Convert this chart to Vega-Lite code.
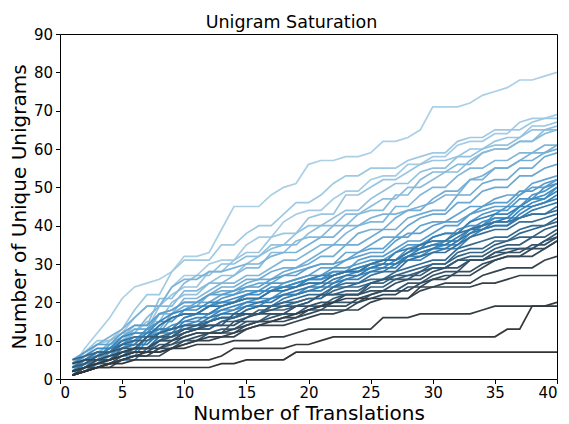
{
"$schema": "https://vega.github.io/schema/vega-lite/v6.json",
"width": 497, "height": 345, "autosize": "none",
"padding": {"left": 60, "top": 34, "right": 12, "bottom": 45},
"background": "white",
"title": {"text": "Unigram Saturation", "fontSize": 17.5, "font": "DejaVu Sans", "fontWeight": "normal", "color": "#000", "offset": 7, "dy": 11, "dx": -17},
"config": {
  "view": {"stroke": "#000", "strokeWidth": 1},
  "axis": {"domain": false, "grid": false, "tickColor": "#000", "tickSize": 4.5, "tickWidth": 1, "labelFont": "DejaVu Sans", "labelFontSize": 15, "labelColor": "#000", "labelPadding": 3, "titleFont": "DejaVu Sans", "titleFontSize": 20, "titleFontWeight": "normal", "titleColor": "#000", "titlePadding": 4},
  "axisBottom": {"titlePadding": 3, "labelPadding": 2}
},
"datasets": {"d": [
{"s":1,"x":1,"y":3},{"s":1,"x":2,"y":8},{"s":1,"x":3,"y":12},{"s":1,"x":4,"y":16},{"s":1,"x":5,"y":21},{"s":1,"x":6,"y":24},{"s":1,"x":7,"y":25},{"s":1,"x":8,"y":26},{"s":1,"x":9,"y":28},{"s":1,"x":10,"y":32},
{"s":1,"x":11,"y":32},{"s":1,"x":12,"y":33},{"s":1,"x":13,"y":39},{"s":1,"x":14,"y":45},{"s":1,"x":15,"y":45},{"s":1,"x":16,"y":45},{"s":1,"x":17,"y":48},{"s":1,"x":18,"y":50},{"s":1,"x":19,"y":51},{"s":1,"x":20,"y":56},
{"s":1,"x":21,"y":57},{"s":1,"x":22,"y":57},{"s":1,"x":23,"y":58},{"s":1,"x":24,"y":58},{"s":1,"x":25,"y":59},{"s":1,"x":26,"y":62},{"s":1,"x":27,"y":62},{"s":1,"x":28,"y":63},{"s":1,"x":29,"y":65},{"s":1,"x":30,"y":71},
{"s":1,"x":31,"y":71},{"s":1,"x":32,"y":71},{"s":1,"x":33,"y":72},{"s":1,"x":34,"y":74},{"s":1,"x":35,"y":75},{"s":1,"x":36,"y":76},{"s":1,"x":37,"y":78},{"s":1,"x":38,"y":78},{"s":1,"x":39,"y":79},{"s":1,"x":40,"y":80},
{"s":2,"x":1,"y":2},{"s":2,"x":2,"y":6},{"s":2,"x":3,"y":9},{"s":2,"x":4,"y":10},{"s":2,"x":5,"y":12},{"s":2,"x":6,"y":16},{"s":2,"x":7,"y":19},{"s":2,"x":8,"y":19},{"s":2,"x":9,"y":24},{"s":2,"x":10,"y":27},
{"s":2,"x":11,"y":27},{"s":2,"x":12,"y":30},{"s":2,"x":13,"y":31},{"s":2,"x":14,"y":31},{"s":2,"x":15,"y":35},{"s":2,"x":16,"y":37},{"s":2,"x":17,"y":37},{"s":2,"x":18,"y":41},{"s":2,"x":19,"y":43},{"s":2,"x":20,"y":44},
{"s":2,"x":21,"y":44},{"s":2,"x":22,"y":47},{"s":2,"x":23,"y":49},{"s":2,"x":24,"y":49},{"s":2,"x":25,"y":52},{"s":2,"x":26,"y":53},{"s":2,"x":27,"y":53},{"s":2,"x":28,"y":56},{"s":2,"x":29,"y":56},{"s":2,"x":30,"y":58},
{"s":2,"x":31,"y":58},{"s":2,"x":32,"y":61},{"s":2,"x":33,"y":62},{"s":2,"x":34,"y":62},{"s":2,"x":35,"y":64},{"s":2,"x":36,"y":64},{"s":2,"x":37,"y":67},{"s":2,"x":38,"y":68},{"s":2,"x":39,"y":68},{"s":2,"x":40,"y":69},
{"s":3,"x":1,"y":4},{"s":3,"x":2,"y":7},{"s":3,"x":3,"y":10},{"s":3,"x":4,"y":10},{"s":3,"x":5,"y":13},{"s":3,"x":6,"y":18},{"s":3,"x":7,"y":22},{"s":3,"x":8,"y":22},{"s":3,"x":9,"y":28},{"s":3,"x":10,"y":31},
{"s":3,"x":11,"y":31},{"s":3,"x":12,"y":31},{"s":3,"x":13,"y":35},{"s":3,"x":14,"y":35},{"s":3,"x":15,"y":38},{"s":3,"x":16,"y":40},{"s":3,"x":17,"y":40},{"s":3,"x":18,"y":43},{"s":3,"x":19,"y":46},{"s":3,"x":20,"y":46},
{"s":3,"x":21,"y":48},{"s":3,"x":22,"y":51},{"s":3,"x":23,"y":53},{"s":3,"x":24,"y":53},{"s":3,"x":25,"y":55},{"s":3,"x":26,"y":55},{"s":3,"x":27,"y":55},{"s":3,"x":28,"y":57},{"s":3,"x":29,"y":58},{"s":3,"x":30,"y":59},
{"s":3,"x":31,"y":59},{"s":3,"x":32,"y":62},{"s":3,"x":33,"y":63},{"s":3,"x":34,"y":63},{"s":3,"x":35,"y":65},{"s":3,"x":36,"y":65},{"s":3,"x":37,"y":65},{"s":3,"x":38,"y":67},{"s":3,"x":39,"y":68},{"s":3,"x":40,"y":68},
{"s":4,"x":1,"y":3},{"s":4,"x":2,"y":5},{"s":4,"x":3,"y":7},{"s":4,"x":4,"y":9},{"s":4,"x":5,"y":10},{"s":4,"x":6,"y":13},{"s":4,"x":7,"y":13},{"s":4,"x":8,"y":19},{"s":4,"x":9,"y":22},{"s":4,"x":10,"y":24},
{"s":4,"x":11,"y":24},{"s":4,"x":12,"y":28},{"s":4,"x":13,"y":28},{"s":4,"x":14,"y":31},{"s":4,"x":15,"y":33},{"s":4,"x":16,"y":33},{"s":4,"x":17,"y":37},{"s":4,"x":18,"y":38},{"s":4,"x":19,"y":38},{"s":4,"x":20,"y":42},
{"s":4,"x":21,"y":43},{"s":4,"x":22,"y":43},{"s":4,"x":23,"y":48},{"s":4,"x":24,"y":48},{"s":4,"x":25,"y":50},{"s":4,"x":26,"y":52},{"s":4,"x":27,"y":52},{"s":4,"x":28,"y":54},{"s":4,"x":29,"y":56},{"s":4,"x":30,"y":57},
{"s":4,"x":31,"y":57},{"s":4,"x":32,"y":58},{"s":4,"x":33,"y":60},{"s":4,"x":34,"y":60},{"s":4,"x":35,"y":62},{"s":4,"x":36,"y":63},{"s":4,"x":37,"y":63},{"s":4,"x":38,"y":66},{"s":4,"x":39,"y":66},{"s":4,"x":40,"y":67},
{"s":5,"x":1,"y":2},{"s":5,"x":2,"y":4},{"s":5,"x":3,"y":6},{"s":5,"x":4,"y":6},{"s":5,"x":5,"y":9},{"s":5,"x":6,"y":12},{"s":5,"x":7,"y":15},{"s":5,"x":8,"y":15},{"s":5,"x":9,"y":20},{"s":5,"x":10,"y":22},
{"s":5,"x":11,"y":22},{"s":5,"x":12,"y":25},{"s":5,"x":13,"y":27},{"s":5,"x":14,"y":27},{"s":5,"x":15,"y":30},{"s":5,"x":16,"y":32},{"s":5,"x":17,"y":35},{"s":5,"x":18,"y":35},{"s":5,"x":19,"y":38},{"s":5,"x":20,"y":40},
{"s":5,"x":21,"y":40},{"s":5,"x":22,"y":42},{"s":5,"x":23,"y":44},{"s":5,"x":24,"y":44},{"s":5,"x":25,"y":47},{"s":5,"x":26,"y":49},{"s":5,"x":27,"y":51},{"s":5,"x":28,"y":51},{"s":5,"x":29,"y":54},{"s":5,"x":30,"y":55},
{"s":5,"x":31,"y":55},{"s":5,"x":32,"y":58},{"s":5,"x":33,"y":58},{"s":5,"x":34,"y":60},{"s":5,"x":35,"y":61},{"s":5,"x":36,"y":61},{"s":5,"x":37,"y":63},{"s":5,"x":38,"y":65},{"s":5,"x":39,"y":65},{"s":5,"x":40,"y":66},
{"s":6,"x":1,"y":1},{"s":6,"x":2,"y":4},{"s":6,"x":3,"y":7},{"s":6,"x":4,"y":7},{"s":6,"x":5,"y":11},{"s":6,"x":6,"y":14},{"s":6,"x":7,"y":14},{"s":6,"x":8,"y":21},{"s":6,"x":9,"y":21},{"s":6,"x":10,"y":25},
{"s":6,"x":11,"y":27},{"s":6,"x":12,"y":27},{"s":6,"x":13,"y":30},{"s":6,"x":14,"y":30},{"s":6,"x":15,"y":32},{"s":6,"x":16,"y":32},{"s":6,"x":17,"y":34},{"s":6,"x":18,"y":35},{"s":6,"x":19,"y":35},{"s":6,"x":20,"y":38},
{"s":6,"x":21,"y":40},{"s":6,"x":22,"y":40},{"s":6,"x":23,"y":43},{"s":6,"x":24,"y":43},{"s":6,"x":25,"y":45},{"s":6,"x":26,"y":47},{"s":6,"x":27,"y":47},{"s":6,"x":28,"y":50},{"s":6,"x":29,"y":50},{"s":6,"x":30,"y":52},
{"s":6,"x":31,"y":54},{"s":6,"x":32,"y":54},{"s":6,"x":33,"y":57},{"s":6,"x":34,"y":59},{"s":6,"x":35,"y":60},{"s":6,"x":36,"y":60},{"s":6,"x":37,"y":62},{"s":6,"x":38,"y":62},{"s":6,"x":39,"y":65},{"s":6,"x":40,"y":65},
{"s":7,"x":1,"y":3},{"s":7,"x":2,"y":6},{"s":7,"x":3,"y":6},{"s":7,"x":4,"y":10},{"s":7,"x":5,"y":12},{"s":7,"x":6,"y":12},{"s":7,"x":7,"y":16},{"s":7,"x":8,"y":19},{"s":7,"x":9,"y":19},{"s":7,"x":10,"y":23},
{"s":7,"x":11,"y":23},{"s":7,"x":12,"y":25},{"s":7,"x":13,"y":25},{"s":7,"x":14,"y":27},{"s":7,"x":15,"y":29},{"s":7,"x":16,"y":29},{"s":7,"x":17,"y":33},{"s":7,"x":18,"y":33},{"s":7,"x":19,"y":36},{"s":7,"x":20,"y":37},
{"s":7,"x":21,"y":37},{"s":7,"x":22,"y":40},{"s":7,"x":23,"y":40},{"s":7,"x":24,"y":43},{"s":7,"x":25,"y":44},{"s":7,"x":26,"y":44},{"s":7,"x":27,"y":48},{"s":7,"x":28,"y":48},{"s":7,"x":29,"y":52},{"s":7,"x":30,"y":54},
{"s":7,"x":31,"y":54},{"s":7,"x":32,"y":56},{"s":7,"x":33,"y":56},{"s":7,"x":34,"y":59},{"s":7,"x":35,"y":60},{"s":7,"x":36,"y":60},{"s":7,"x":37,"y":62},{"s":7,"x":38,"y":62},{"s":7,"x":39,"y":64},{"s":7,"x":40,"y":65},
{"s":8,"x":1,"y":2},{"s":8,"x":2,"y":4},{"s":8,"x":3,"y":6},{"s":8,"x":4,"y":8},{"s":8,"x":5,"y":10},{"s":8,"x":6,"y":12},{"s":8,"x":7,"y":12},{"s":8,"x":8,"y":17},{"s":8,"x":9,"y":17},{"s":8,"x":10,"y":21},
{"s":8,"x":11,"y":21},{"s":8,"x":12,"y":23},{"s":8,"x":13,"y":25},{"s":8,"x":14,"y":25},{"s":8,"x":15,"y":27},{"s":8,"x":16,"y":27},{"s":8,"x":17,"y":29},{"s":8,"x":18,"y":31},{"s":8,"x":19,"y":31},{"s":8,"x":20,"y":33},
{"s":8,"x":21,"y":35},{"s":8,"x":22,"y":35},{"s":8,"x":23,"y":38},{"s":8,"x":24,"y":40},{"s":8,"x":25,"y":41},{"s":8,"x":26,"y":41},{"s":8,"x":27,"y":45},{"s":8,"x":28,"y":45},{"s":8,"x":29,"y":48},{"s":8,"x":30,"y":50},
{"s":8,"x":31,"y":50},{"s":8,"x":32,"y":53},{"s":8,"x":33,"y":55},{"s":8,"x":34,"y":55},{"s":8,"x":35,"y":57},{"s":8,"x":36,"y":57},{"s":8,"x":37,"y":59},{"s":8,"x":38,"y":59},{"s":8,"x":39,"y":61},{"s":8,"x":40,"y":61},
{"s":9,"x":1,"y":4},{"s":9,"x":2,"y":7},{"s":9,"x":3,"y":9},{"s":9,"x":4,"y":11},{"s":9,"x":5,"y":13},{"s":9,"x":6,"y":16},{"s":9,"x":7,"y":19},{"s":9,"x":8,"y":19},{"s":9,"x":9,"y":24},{"s":9,"x":10,"y":26},
{"s":9,"x":11,"y":26},{"s":9,"x":12,"y":28},{"s":9,"x":13,"y":28},{"s":9,"x":14,"y":29},{"s":9,"x":15,"y":30},{"s":9,"x":16,"y":30},{"s":9,"x":17,"y":32},{"s":9,"x":18,"y":33},{"s":9,"x":19,"y":33},{"s":9,"x":20,"y":35},
{"s":9,"x":21,"y":37},{"s":9,"x":22,"y":37},{"s":9,"x":23,"y":40},{"s":9,"x":24,"y":40},{"s":9,"x":25,"y":42},{"s":9,"x":26,"y":43},{"s":9,"x":27,"y":43},{"s":9,"x":28,"y":44},{"s":9,"x":29,"y":45},{"s":9,"x":30,"y":46},
{"s":9,"x":31,"y":48},{"s":9,"x":32,"y":48},{"s":9,"x":33,"y":52},{"s":9,"x":34,"y":52},{"s":9,"x":35,"y":55},{"s":9,"x":36,"y":55},{"s":9,"x":37,"y":57},{"s":9,"x":38,"y":59},{"s":9,"x":39,"y":59},{"s":9,"x":40,"y":61},
{"s":10,"x":1,"y":1},{"s":10,"x":2,"y":3},{"s":10,"x":3,"y":5},{"s":10,"x":4,"y":7},{"s":10,"x":5,"y":8},{"s":10,"x":6,"y":10},{"s":10,"x":7,"y":13},{"s":10,"x":8,"y":13},{"s":10,"x":9,"y":17},{"s":10,"x":10,"y":19},
{"s":10,"x":11,"y":19},{"s":10,"x":12,"y":22},{"s":10,"x":13,"y":24},{"s":10,"x":14,"y":24},{"s":10,"x":15,"y":26},{"s":10,"x":16,"y":26},{"s":10,"x":17,"y":28},{"s":10,"x":18,"y":29},{"s":10,"x":19,"y":29},{"s":10,"x":20,"y":31},
{"s":10,"x":21,"y":33},{"s":10,"x":22,"y":35},{"s":10,"x":23,"y":35},{"s":10,"x":24,"y":38},{"s":10,"x":25,"y":39},{"s":10,"x":26,"y":39},{"s":10,"x":27,"y":42},{"s":10,"x":28,"y":44},{"s":10,"x":29,"y":44},{"s":10,"x":30,"y":47},
{"s":10,"x":31,"y":49},{"s":10,"x":32,"y":49},{"s":10,"x":33,"y":52},{"s":10,"x":34,"y":53},{"s":10,"x":35,"y":55},{"s":10,"x":36,"y":55},{"s":10,"x":37,"y":57},{"s":10,"x":38,"y":57},{"s":10,"x":39,"y":59},{"s":10,"x":40,"y":60},
{"s":11,"x":1,"y":2},{"s":11,"x":2,"y":5},{"s":11,"x":3,"y":5},{"s":11,"x":4,"y":9},{"s":11,"x":5,"y":11},{"s":11,"x":6,"y":13},{"s":11,"x":7,"y":13},{"s":11,"x":8,"y":17},{"s":11,"x":9,"y":18},{"s":11,"x":10,"y":20},
{"s":11,"x":11,"y":20},{"s":11,"x":12,"y":22},{"s":11,"x":13,"y":23},{"s":11,"x":14,"y":23},{"s":11,"x":15,"y":25},{"s":11,"x":16,"y":26},{"s":11,"x":17,"y":26},{"s":11,"x":18,"y":28},{"s":11,"x":19,"y":29},{"s":11,"x":20,"y":30},
{"s":11,"x":21,"y":32},{"s":11,"x":22,"y":32},{"s":11,"x":23,"y":35},{"s":11,"x":24,"y":35},{"s":11,"x":25,"y":37},{"s":11,"x":26,"y":39},{"s":11,"x":27,"y":39},{"s":11,"x":28,"y":42},{"s":11,"x":29,"y":43},{"s":11,"x":30,"y":44},
{"s":11,"x":31,"y":44},{"s":11,"x":32,"y":48},{"s":11,"x":33,"y":48},{"s":11,"x":34,"y":51},{"s":11,"x":35,"y":52},{"s":11,"x":36,"y":52},{"s":11,"x":37,"y":55},{"s":11,"x":38,"y":55},{"s":11,"x":39,"y":58},{"s":11,"x":40,"y":59},
{"s":12,"x":1,"y":3},{"s":12,"x":2,"y":5},{"s":12,"x":3,"y":6},{"s":12,"x":4,"y":8},{"s":12,"x":5,"y":9},{"s":12,"x":6,"y":9},{"s":12,"x":7,"y":13},{"s":12,"x":8,"y":15},{"s":12,"x":9,"y":15},{"s":12,"x":10,"y":18},
{"s":12,"x":11,"y":20},{"s":12,"x":12,"y":20},{"s":12,"x":13,"y":22},{"s":12,"x":14,"y":22},{"s":12,"x":15,"y":24},{"s":12,"x":16,"y":25},{"s":12,"x":17,"y":25},{"s":12,"x":18,"y":27},{"s":12,"x":19,"y":28},{"s":12,"x":20,"y":29},
{"s":12,"x":21,"y":30},{"s":12,"x":22,"y":30},{"s":12,"x":23,"y":33},{"s":12,"x":24,"y":33},{"s":12,"x":25,"y":35},{"s":12,"x":26,"y":37},{"s":12,"x":27,"y":37},{"s":12,"x":28,"y":40},{"s":12,"x":29,"y":42},{"s":12,"x":30,"y":43},
{"s":12,"x":31,"y":43},{"s":12,"x":32,"y":46},{"s":12,"x":33,"y":46},{"s":12,"x":34,"y":49},{"s":12,"x":35,"y":50},{"s":12,"x":36,"y":50},{"s":12,"x":37,"y":53},{"s":12,"x":38,"y":53},{"s":12,"x":39,"y":55},{"s":12,"x":40,"y":56},
{"s":13,"x":1,"y":2},{"s":13,"x":2,"y":4},{"s":13,"x":3,"y":6},{"s":13,"x":4,"y":6},{"s":13,"x":5,"y":8},{"s":13,"x":6,"y":10},{"s":13,"x":7,"y":12},{"s":13,"x":8,"y":12},{"s":13,"x":9,"y":16},{"s":13,"x":10,"y":17},
{"s":13,"x":11,"y":17},{"s":13,"x":12,"y":19},{"s":13,"x":13,"y":20},{"s":13,"x":14,"y":20},{"s":13,"x":15,"y":22},{"s":13,"x":16,"y":23},{"s":13,"x":17,"y":23},{"s":13,"x":18,"y":25},{"s":13,"x":19,"y":26},{"s":13,"x":20,"y":27},
{"s":13,"x":21,"y":29},{"s":13,"x":22,"y":29},{"s":13,"x":23,"y":31},{"s":13,"x":24,"y":33},{"s":13,"x":25,"y":34},{"s":13,"x":26,"y":34},{"s":13,"x":27,"y":37},{"s":13,"x":28,"y":37},{"s":13,"x":29,"y":40},{"s":13,"x":30,"y":41},
{"s":13,"x":31,"y":41},{"s":13,"x":32,"y":43},{"s":13,"x":33,"y":45},{"s":13,"x":34,"y":45},{"s":13,"x":35,"y":47},{"s":13,"x":36,"y":48},{"s":13,"x":37,"y":48},{"s":13,"x":38,"y":51},{"s":13,"x":39,"y":52},{"s":13,"x":40,"y":53},
{"s":14,"x":1,"y":5},{"s":14,"x":2,"y":7},{"s":14,"x":3,"y":9},{"s":14,"x":4,"y":9},{"s":14,"x":5,"y":12},{"s":14,"x":6,"y":14},{"s":14,"x":7,"y":14},{"s":14,"x":8,"y":17},{"s":14,"x":9,"y":18},{"s":14,"x":10,"y":20},
{"s":14,"x":11,"y":20},{"s":14,"x":12,"y":22},{"s":14,"x":13,"y":22},{"s":14,"x":14,"y":23},{"s":14,"x":15,"y":24},{"s":14,"x":16,"y":24},{"s":14,"x":17,"y":26},{"s":14,"x":18,"y":27},{"s":14,"x":19,"y":27},{"s":14,"x":20,"y":29},
{"s":14,"x":21,"y":30},{"s":14,"x":22,"y":30},{"s":14,"x":23,"y":31},{"s":14,"x":24,"y":32},{"s":14,"x":25,"y":33},{"s":14,"x":26,"y":33},{"s":14,"x":27,"y":36},{"s":14,"x":28,"y":38},{"s":14,"x":29,"y":38},{"s":14,"x":30,"y":40},
{"s":14,"x":31,"y":41},{"s":14,"x":32,"y":41},{"s":14,"x":33,"y":43},{"s":14,"x":34,"y":44},{"s":14,"x":35,"y":45},{"s":14,"x":36,"y":45},{"s":14,"x":37,"y":48},{"s":14,"x":38,"y":50},{"s":14,"x":39,"y":50},{"s":14,"x":40,"y":52},
{"s":15,"x":1,"y":1},{"s":15,"x":2,"y":3},{"s":15,"x":3,"y":4},{"s":15,"x":4,"y":6},{"s":15,"x":5,"y":7},{"s":15,"x":6,"y":7},{"s":15,"x":7,"y":11},{"s":15,"x":8,"y":13},{"s":15,"x":9,"y":13},{"s":15,"x":10,"y":16},
{"s":15,"x":11,"y":17},{"s":15,"x":12,"y":17},{"s":15,"x":13,"y":19},{"s":15,"x":14,"y":20},{"s":15,"x":15,"y":21},{"s":15,"x":16,"y":21},{"s":15,"x":17,"y":23},{"s":15,"x":18,"y":24},{"s":15,"x":19,"y":24},{"s":15,"x":20,"y":26},
{"s":15,"x":21,"y":27},{"s":15,"x":22,"y":28},{"s":15,"x":23,"y":28},{"s":15,"x":24,"y":31},{"s":15,"x":25,"y":32},{"s":15,"x":26,"y":32},{"s":15,"x":27,"y":34},{"s":15,"x":28,"y":36},{"s":15,"x":29,"y":36},{"s":15,"x":30,"y":38},
{"s":15,"x":31,"y":40},{"s":15,"x":32,"y":40},{"s":15,"x":33,"y":43},{"s":15,"x":34,"y":45},{"s":15,"x":35,"y":46},{"s":15,"x":36,"y":46},{"s":15,"x":37,"y":49},{"s":15,"x":38,"y":49},{"s":15,"x":39,"y":51},{"s":15,"x":40,"y":52},
{"s":16,"x":1,"y":2},{"s":16,"x":2,"y":4},{"s":16,"x":3,"y":6},{"s":16,"x":4,"y":8},{"s":16,"x":5,"y":10},{"s":16,"x":6,"y":10},{"s":16,"x":7,"y":13},{"s":16,"x":8,"y":15},{"s":16,"x":9,"y":15},{"s":16,"x":10,"y":18},
{"s":16,"x":11,"y":19},{"s":16,"x":12,"y":19},{"s":16,"x":13,"y":21},{"s":16,"x":14,"y":22},{"s":16,"x":15,"y":23},{"s":16,"x":16,"y":23},{"s":16,"x":17,"y":25},{"s":16,"x":18,"y":25},{"s":16,"x":19,"y":26},{"s":16,"x":20,"y":27},
{"s":16,"x":21,"y":27},{"s":16,"x":22,"y":29},{"s":16,"x":23,"y":29},{"s":16,"x":24,"y":30},{"s":16,"x":25,"y":31},{"s":16,"x":26,"y":31},{"s":16,"x":27,"y":33},{"s":16,"x":28,"y":35},{"s":16,"x":29,"y":35},{"s":16,"x":30,"y":37},
{"s":16,"x":31,"y":38},{"s":16,"x":32,"y":38},{"s":16,"x":33,"y":41},{"s":16,"x":34,"y":43},{"s":16,"x":35,"y":44},{"s":16,"x":36,"y":44},{"s":16,"x":37,"y":47},{"s":16,"x":38,"y":47},{"s":16,"x":39,"y":50},{"s":16,"x":40,"y":51},
{"s":17,"x":1,"y":3},{"s":17,"x":2,"y":4},{"s":17,"x":3,"y":4},{"s":17,"x":4,"y":7},{"s":17,"x":5,"y":8},{"s":17,"x":6,"y":9},{"s":17,"x":7,"y":9},{"s":17,"x":8,"y":12},{"s":17,"x":9,"y":14},{"s":17,"x":10,"y":15},
{"s":17,"x":11,"y":15},{"s":17,"x":12,"y":17},{"s":17,"x":13,"y":18},{"s":17,"x":14,"y":18},{"s":17,"x":15,"y":20},{"s":17,"x":16,"y":21},{"s":17,"x":17,"y":21},{"s":17,"x":18,"y":23},{"s":17,"x":19,"y":24},{"s":17,"x":20,"y":25},
{"s":17,"x":21,"y":25},{"s":17,"x":22,"y":27},{"s":17,"x":23,"y":28},{"s":17,"x":24,"y":28},{"s":17,"x":25,"y":30},{"s":17,"x":26,"y":31},{"s":17,"x":27,"y":31},{"s":17,"x":28,"y":34},{"s":17,"x":29,"y":35},{"s":17,"x":30,"y":36},
{"s":17,"x":31,"y":36},{"s":17,"x":32,"y":39},{"s":17,"x":33,"y":40},{"s":17,"x":34,"y":40},{"s":17,"x":35,"y":43},{"s":17,"x":36,"y":45},{"s":17,"x":37,"y":45},{"s":17,"x":38,"y":48},{"s":17,"x":39,"y":49},{"s":17,"x":40,"y":51},
{"s":18,"x":1,"y":2},{"s":18,"x":2,"y":4},{"s":18,"x":3,"y":6},{"s":18,"x":4,"y":6},{"s":18,"x":5,"y":9},{"s":18,"x":6,"y":11},{"s":18,"x":7,"y":11},{"s":18,"x":8,"y":14},{"s":18,"x":9,"y":16},{"s":18,"x":10,"y":17},
{"s":18,"x":11,"y":17},{"s":18,"x":12,"y":19},{"s":18,"x":13,"y":20},{"s":18,"x":14,"y":20},{"s":18,"x":15,"y":22},{"s":18,"x":16,"y":23},{"s":18,"x":17,"y":23},{"s":18,"x":18,"y":24},{"s":18,"x":19,"y":25},{"s":18,"x":20,"y":26},
{"s":18,"x":21,"y":26},{"s":18,"x":22,"y":28},{"s":18,"x":23,"y":28},{"s":18,"x":24,"y":29},{"s":18,"x":25,"y":30},{"s":18,"x":26,"y":31},{"s":18,"x":27,"y":31},{"s":18,"x":28,"y":33},{"s":18,"x":29,"y":34},{"s":18,"x":30,"y":35},
{"s":18,"x":31,"y":36},{"s":18,"x":32,"y":36},{"s":18,"x":33,"y":39},{"s":18,"x":34,"y":41},{"s":18,"x":35,"y":42},{"s":18,"x":36,"y":42},{"s":18,"x":37,"y":45},{"s":18,"x":38,"y":47},{"s":18,"x":39,"y":47},{"s":18,"x":40,"y":50},
{"s":19,"x":1,"y":1},{"s":19,"x":2,"y":2},{"s":19,"x":3,"y":4},{"s":19,"x":4,"y":5},{"s":19,"x":5,"y":6},{"s":19,"x":6,"y":6},{"s":19,"x":7,"y":10},{"s":19,"x":8,"y":11},{"s":19,"x":9,"y":11},{"s":19,"x":10,"y":14},
{"s":19,"x":11,"y":15},{"s":19,"x":12,"y":15},{"s":19,"x":13,"y":17},{"s":19,"x":14,"y":18},{"s":19,"x":15,"y":19},{"s":19,"x":16,"y":19},{"s":19,"x":17,"y":21},{"s":19,"x":18,"y":22},{"s":19,"x":19,"y":22},{"s":19,"x":20,"y":24},
{"s":19,"x":21,"y":25},{"s":19,"x":22,"y":25},{"s":19,"x":23,"y":27},{"s":19,"x":24,"y":28},{"s":19,"x":25,"y":29},{"s":19,"x":26,"y":29},{"s":19,"x":27,"y":31},{"s":19,"x":28,"y":32},{"s":19,"x":29,"y":32},{"s":19,"x":30,"y":34},
{"s":19,"x":31,"y":36},{"s":19,"x":32,"y":36},{"s":19,"x":33,"y":39},{"s":19,"x":34,"y":40},{"s":19,"x":35,"y":42},{"s":19,"x":36,"y":42},{"s":19,"x":37,"y":45},{"s":19,"x":38,"y":47},{"s":19,"x":39,"y":48},{"s":19,"x":40,"y":50},
{"s":20,"x":1,"y":4},{"s":20,"x":2,"y":6},{"s":20,"x":3,"y":8},{"s":20,"x":4,"y":8},{"s":20,"x":5,"y":11},{"s":20,"x":6,"y":12},{"s":20,"x":7,"y":12},{"s":20,"x":8,"y":15},{"s":20,"x":9,"y":17},{"s":20,"x":10,"y":18},
{"s":20,"x":11,"y":18},{"s":20,"x":12,"y":20},{"s":20,"x":13,"y":20},{"s":20,"x":14,"y":21},{"s":20,"x":15,"y":22},{"s":20,"x":16,"y":22},{"s":20,"x":17,"y":24},{"s":20,"x":18,"y":24},{"s":20,"x":19,"y":25},{"s":20,"x":20,"y":26},
{"s":20,"x":21,"y":26},{"s":20,"x":22,"y":27},{"s":20,"x":23,"y":28},{"s":20,"x":24,"y":28},{"s":20,"x":25,"y":29},{"s":20,"x":26,"y":30},{"s":20,"x":27,"y":30},{"s":20,"x":28,"y":32},{"s":20,"x":29,"y":33},{"s":20,"x":30,"y":34},
{"s":20,"x":31,"y":35},{"s":20,"x":32,"y":35},{"s":20,"x":33,"y":38},{"s":20,"x":34,"y":40},{"s":20,"x":35,"y":41},{"s":20,"x":36,"y":41},{"s":20,"x":37,"y":44},{"s":20,"x":38,"y":46},{"s":20,"x":39,"y":47},{"s":20,"x":40,"y":49},
{"s":21,"x":1,"y":2},{"s":21,"x":2,"y":3},{"s":21,"x":3,"y":5},{"s":21,"x":4,"y":6},{"s":21,"x":5,"y":7},{"s":21,"x":6,"y":7},{"s":21,"x":7,"y":11},{"s":21,"x":8,"y":12},{"s":21,"x":9,"y":12},{"s":21,"x":10,"y":15},
{"s":21,"x":11,"y":16},{"s":21,"x":12,"y":16},{"s":21,"x":13,"y":18},{"s":21,"x":14,"y":19},{"s":21,"x":15,"y":20},{"s":21,"x":16,"y":20},{"s":21,"x":17,"y":21},{"s":21,"x":18,"y":22},{"s":21,"x":19,"y":22},{"s":21,"x":20,"y":23},
{"s":21,"x":21,"y":24},{"s":21,"x":22,"y":24},{"s":21,"x":23,"y":26},{"s":21,"x":24,"y":27},{"s":21,"x":25,"y":28},{"s":21,"x":26,"y":28},{"s":21,"x":27,"y":30},{"s":21,"x":28,"y":31},{"s":21,"x":29,"y":31},{"s":21,"x":30,"y":33},
{"s":21,"x":31,"y":34},{"s":21,"x":32,"y":34},{"s":21,"x":33,"y":37},{"s":21,"x":34,"y":39},{"s":21,"x":35,"y":40},{"s":21,"x":36,"y":40},{"s":21,"x":37,"y":43},{"s":21,"x":38,"y":45},{"s":21,"x":39,"y":46},{"s":21,"x":40,"y":48},
{"s":22,"x":1,"y":3},{"s":22,"x":2,"y":5},{"s":22,"x":3,"y":6},{"s":22,"x":4,"y":8},{"s":22,"x":5,"y":9},{"s":22,"x":6,"y":9},{"s":22,"x":7,"y":12},{"s":22,"x":8,"y":13},{"s":22,"x":9,"y":13},{"s":22,"x":10,"y":16},
{"s":22,"x":11,"y":17},{"s":22,"x":12,"y":17},{"s":22,"x":13,"y":19},{"s":22,"x":14,"y":20},{"s":22,"x":15,"y":21},{"s":22,"x":16,"y":21},{"s":22,"x":17,"y":23},{"s":22,"x":18,"y":24},{"s":22,"x":19,"y":24},{"s":22,"x":20,"y":26},
{"s":22,"x":21,"y":27},{"s":22,"x":22,"y":27},{"s":22,"x":23,"y":28},{"s":22,"x":24,"y":29},{"s":22,"x":25,"y":30},{"s":22,"x":26,"y":30},{"s":22,"x":27,"y":33},{"s":22,"x":28,"y":34},{"s":22,"x":29,"y":34},{"s":22,"x":30,"y":37},
{"s":22,"x":31,"y":38},{"s":22,"x":32,"y":38},{"s":22,"x":33,"y":41},{"s":22,"x":34,"y":42},{"s":22,"x":35,"y":43},{"s":22,"x":36,"y":43},{"s":22,"x":37,"y":45},{"s":22,"x":38,"y":45},{"s":22,"x":39,"y":46},{"s":22,"x":40,"y":47},
{"s":23,"x":1,"y":1},{"s":23,"x":2,"y":2},{"s":23,"x":3,"y":4},{"s":23,"x":4,"y":5},{"s":23,"x":5,"y":6},{"s":23,"x":6,"y":7},{"s":23,"x":7,"y":7},{"s":23,"x":8,"y":10},{"s":23,"x":9,"y":12},{"s":23,"x":10,"y":13},
{"s":23,"x":11,"y":13},{"s":23,"x":12,"y":15},{"s":23,"x":13,"y":16},{"s":23,"x":14,"y":16},{"s":23,"x":15,"y":18},{"s":23,"x":16,"y":19},{"s":23,"x":17,"y":19},{"s":23,"x":18,"y":21},{"s":23,"x":19,"y":22},{"s":23,"x":20,"y":23},
{"s":23,"x":21,"y":23},{"s":23,"x":22,"y":25},{"s":23,"x":23,"y":26},{"s":23,"x":24,"y":26},{"s":23,"x":25,"y":28},{"s":23,"x":26,"y":29},{"s":23,"x":27,"y":29},{"s":23,"x":28,"y":32},{"s":23,"x":29,"y":34},{"s":23,"x":30,"y":35},
{"s":23,"x":31,"y":35},{"s":23,"x":32,"y":37},{"s":23,"x":33,"y":39},{"s":23,"x":34,"y":39},{"s":23,"x":35,"y":41},{"s":23,"x":36,"y":42},{"s":23,"x":37,"y":42},{"s":23,"x":38,"y":44},{"s":23,"x":39,"y":45},{"s":23,"x":40,"y":46},
{"s":24,"x":1,"y":2},{"s":24,"x":2,"y":4},{"s":24,"x":3,"y":5},{"s":24,"x":4,"y":5},{"s":24,"x":5,"y":8},{"s":24,"x":6,"y":9},{"s":24,"x":7,"y":9},{"s":24,"x":8,"y":12},{"s":24,"x":9,"y":13},{"s":24,"x":10,"y":14},
{"s":24,"x":11,"y":14},{"s":24,"x":12,"y":16},{"s":24,"x":13,"y":17},{"s":24,"x":14,"y":17},{"s":24,"x":15,"y":19},{"s":24,"x":16,"y":20},{"s":24,"x":17,"y":20},{"s":24,"x":18,"y":22},{"s":24,"x":19,"y":23},{"s":24,"x":20,"y":24},
{"s":24,"x":21,"y":24},{"s":24,"x":22,"y":26},{"s":24,"x":23,"y":27},{"s":24,"x":24,"y":27},{"s":24,"x":25,"y":29},{"s":24,"x":26,"y":30},{"s":24,"x":27,"y":30},{"s":24,"x":28,"y":32},{"s":24,"x":29,"y":33},{"s":24,"x":30,"y":34},
{"s":24,"x":31,"y":34},{"s":24,"x":32,"y":36},{"s":24,"x":33,"y":38},{"s":24,"x":34,"y":39},{"s":24,"x":35,"y":40},{"s":24,"x":36,"y":40},{"s":24,"x":37,"y":42},{"s":24,"x":38,"y":43},{"s":24,"x":39,"y":43},{"s":24,"x":40,"y":45},
{"s":25,"x":1,"y":3},{"s":25,"x":2,"y":5},{"s":25,"x":3,"y":7},{"s":25,"x":4,"y":7},{"s":25,"x":5,"y":10},{"s":25,"x":6,"y":11},{"s":25,"x":7,"y":11},{"s":25,"x":8,"y":14},{"s":25,"x":9,"y":16},{"s":25,"x":10,"y":17},
{"s":25,"x":11,"y":17},{"s":25,"x":12,"y":19},{"s":25,"x":13,"y":19},{"s":25,"x":14,"y":20},{"s":25,"x":15,"y":21},{"s":25,"x":16,"y":21},{"s":25,"x":17,"y":23},{"s":25,"x":18,"y":23},{"s":25,"x":19,"y":24},{"s":25,"x":20,"y":25},
{"s":25,"x":21,"y":25},{"s":25,"x":22,"y":27},{"s":25,"x":23,"y":28},{"s":25,"x":24,"y":28},{"s":25,"x":25,"y":30},{"s":25,"x":26,"y":31},{"s":25,"x":27,"y":31},{"s":25,"x":28,"y":33},{"s":25,"x":29,"y":35},{"s":25,"x":30,"y":36},
{"s":25,"x":31,"y":36},{"s":25,"x":32,"y":38},{"s":25,"x":33,"y":39},{"s":25,"x":34,"y":40},{"s":25,"x":35,"y":41},{"s":25,"x":36,"y":41},{"s":25,"x":37,"y":42},{"s":25,"x":38,"y":43},{"s":25,"x":39,"y":43},{"s":25,"x":40,"y":44},
{"s":26,"x":1,"y":1},{"s":26,"x":2,"y":2},{"s":26,"x":3,"y":3},{"s":26,"x":4,"y":4},{"s":26,"x":5,"y":5},{"s":26,"x":6,"y":5},{"s":26,"x":7,"y":8},{"s":26,"x":8,"y":10},{"s":26,"x":9,"y":10},{"s":26,"x":10,"y":12},
{"s":26,"x":11,"y":13},{"s":26,"x":12,"y":13},{"s":26,"x":13,"y":15},{"s":26,"x":14,"y":16},{"s":26,"x":15,"y":17},{"s":26,"x":16,"y":17},{"s":26,"x":17,"y":19},{"s":26,"x":18,"y":19},{"s":26,"x":19,"y":20},{"s":26,"x":20,"y":21},
{"s":26,"x":21,"y":21},{"s":26,"x":22,"y":24},{"s":26,"x":23,"y":25},{"s":26,"x":24,"y":25},{"s":26,"x":25,"y":27},{"s":26,"x":26,"y":28},{"s":26,"x":27,"y":28},{"s":26,"x":28,"y":31},{"s":26,"x":29,"y":32},{"s":26,"x":30,"y":33},
{"s":26,"x":31,"y":33},{"s":26,"x":32,"y":35},{"s":26,"x":33,"y":37},{"s":26,"x":34,"y":38},{"s":26,"x":35,"y":39},{"s":26,"x":36,"y":39},{"s":26,"x":37,"y":41},{"s":26,"x":38,"y":41},{"s":26,"x":39,"y":42},{"s":26,"x":40,"y":43},
{"s":27,"x":1,"y":2},{"s":27,"x":2,"y":3},{"s":27,"x":3,"y":5},{"s":27,"x":4,"y":5},{"s":27,"x":5,"y":7},{"s":27,"x":6,"y":8},{"s":27,"x":7,"y":8},{"s":27,"x":8,"y":11},{"s":27,"x":9,"y":12},{"s":27,"x":10,"y":13},
{"s":27,"x":11,"y":13},{"s":27,"x":12,"y":15},{"s":27,"x":13,"y":16},{"s":27,"x":14,"y":16},{"s":27,"x":15,"y":18},{"s":27,"x":16,"y":19},{"s":27,"x":17,"y":19},{"s":27,"x":18,"y":20},{"s":27,"x":19,"y":21},{"s":27,"x":20,"y":22},
{"s":27,"x":21,"y":22},{"s":27,"x":22,"y":24},{"s":27,"x":23,"y":24},{"s":27,"x":24,"y":25},{"s":27,"x":25,"y":26},{"s":27,"x":26,"y":26},{"s":27,"x":27,"y":28},{"s":27,"x":28,"y":29},{"s":27,"x":29,"y":30},{"s":27,"x":30,"y":31},
{"s":27,"x":31,"y":31},{"s":27,"x":32,"y":34},{"s":27,"x":33,"y":35},{"s":27,"x":34,"y":36},{"s":27,"x":35,"y":37},{"s":27,"x":36,"y":37},{"s":27,"x":37,"y":39},{"s":27,"x":38,"y":40},{"s":27,"x":39,"y":40},{"s":27,"x":40,"y":42},
{"s":28,"x":1,"y":5},{"s":28,"x":2,"y":6},{"s":28,"x":3,"y":7},{"s":28,"x":4,"y":7},{"s":28,"x":5,"y":9},{"s":28,"x":6,"y":10},{"s":28,"x":7,"y":10},{"s":28,"x":8,"y":12},{"s":28,"x":9,"y":13},{"s":28,"x":10,"y":14},
{"s":28,"x":11,"y":14},{"s":28,"x":12,"y":15},{"s":28,"x":13,"y":16},{"s":28,"x":14,"y":16},{"s":28,"x":15,"y":17},{"s":28,"x":16,"y":17},{"s":28,"x":17,"y":19},{"s":28,"x":18,"y":20},{"s":28,"x":19,"y":20},{"s":28,"x":20,"y":21},
{"s":28,"x":21,"y":21},{"s":28,"x":22,"y":23},{"s":28,"x":23,"y":24},{"s":28,"x":24,"y":24},{"s":28,"x":25,"y":25},{"s":28,"x":26,"y":25},{"s":28,"x":27,"y":27},{"s":28,"x":28,"y":28},{"s":28,"x":29,"y":29},{"s":28,"x":30,"y":30},
{"s":28,"x":31,"y":30},{"s":28,"x":32,"y":33},{"s":28,"x":33,"y":34},{"s":28,"x":34,"y":34},{"s":28,"x":35,"y":36},{"s":28,"x":36,"y":36},{"s":28,"x":37,"y":38},{"s":28,"x":38,"y":39},{"s":28,"x":39,"y":40},{"s":28,"x":40,"y":41},
{"s":29,"x":1,"y":2},{"s":29,"x":2,"y":3},{"s":29,"x":3,"y":4},{"s":29,"x":4,"y":5},{"s":29,"x":5,"y":6},{"s":29,"x":6,"y":8},{"s":29,"x":7,"y":8},{"s":29,"x":8,"y":10},{"s":29,"x":9,"y":11},{"s":29,"x":10,"y":12},
{"s":29,"x":11,"y":13},{"s":29,"x":12,"y":13},{"s":29,"x":13,"y":15},{"s":29,"x":14,"y":15},{"s":29,"x":15,"y":16},{"s":29,"x":16,"y":18},{"s":29,"x":17,"y":18},{"s":29,"x":18,"y":18},{"s":29,"x":19,"y":19},{"s":29,"x":20,"y":20},
{"s":29,"x":21,"y":22},{"s":29,"x":22,"y":22},{"s":29,"x":23,"y":23},{"s":29,"x":24,"y":23},{"s":29,"x":25,"y":25},{"s":29,"x":26,"y":26},{"s":29,"x":27,"y":27},{"s":29,"x":28,"y":27},{"s":29,"x":29,"y":28},{"s":29,"x":30,"y":30},
{"s":29,"x":31,"y":30},{"s":29,"x":32,"y":32},{"s":29,"x":33,"y":33},{"s":29,"x":34,"y":33},{"s":29,"x":35,"y":35},{"s":29,"x":36,"y":36},{"s":29,"x":37,"y":37},{"s":29,"x":38,"y":37},{"s":29,"x":39,"y":39},{"s":29,"x":40,"y":40},
{"s":30,"x":1,"y":1},{"s":30,"x":2,"y":2},{"s":30,"x":3,"y":3},{"s":30,"x":4,"y":4},{"s":30,"x":5,"y":5},{"s":30,"x":6,"y":6},{"s":30,"x":7,"y":6},{"s":30,"x":8,"y":8},{"s":30,"x":9,"y":9},{"s":30,"x":10,"y":10},
{"s":30,"x":11,"y":10},{"s":30,"x":12,"y":12},{"s":30,"x":13,"y":13},{"s":30,"x":14,"y":13},{"s":30,"x":15,"y":15},{"s":30,"x":16,"y":15},{"s":30,"x":17,"y":17},{"s":30,"x":18,"y":17},{"s":30,"x":19,"y":17},{"s":30,"x":20,"y":19},
{"s":30,"x":21,"y":19},{"s":30,"x":22,"y":21},{"s":30,"x":23,"y":22},{"s":30,"x":24,"y":22},{"s":30,"x":25,"y":24},{"s":30,"x":26,"y":24},{"s":30,"x":27,"y":26},{"s":30,"x":28,"y":27},{"s":30,"x":29,"y":27},{"s":30,"x":30,"y":29},
{"s":30,"x":31,"y":29},{"s":30,"x":32,"y":31},{"s":30,"x":33,"y":32},{"s":30,"x":34,"y":32},{"s":30,"x":35,"y":34},{"s":30,"x":36,"y":35},{"s":30,"x":37,"y":35},{"s":30,"x":38,"y":37},{"s":30,"x":39,"y":37},{"s":30,"x":40,"y":39},
{"s":31,"x":1,"y":3},{"s":31,"x":2,"y":4},{"s":31,"x":3,"y":6},{"s":31,"x":4,"y":7},{"s":31,"x":5,"y":8},{"s":31,"x":6,"y":8},{"s":31,"x":7,"y":11},{"s":31,"x":8,"y":11},{"s":31,"x":9,"y":11},{"s":31,"x":10,"y":13},
{"s":31,"x":11,"y":14},{"s":31,"x":12,"y":14},{"s":31,"x":13,"y":14},{"s":31,"x":14,"y":17},{"s":31,"x":15,"y":17},{"s":31,"x":16,"y":17},{"s":31,"x":17,"y":18},{"s":31,"x":18,"y":19},{"s":31,"x":19,"y":19},{"s":31,"x":20,"y":20},
{"s":31,"x":21,"y":22},{"s":31,"x":22,"y":22},{"s":31,"x":23,"y":22},{"s":31,"x":24,"y":22},{"s":31,"x":25,"y":25},{"s":31,"x":26,"y":26},{"s":31,"x":27,"y":26},{"s":31,"x":28,"y":26},{"s":31,"x":29,"y":28},{"s":31,"x":30,"y":29},
{"s":31,"x":31,"y":29},{"s":31,"x":32,"y":31},{"s":31,"x":33,"y":31},{"s":31,"x":34,"y":31},{"s":31,"x":35,"y":33},{"s":31,"x":36,"y":34},{"s":31,"x":37,"y":34},{"s":31,"x":38,"y":34},{"s":31,"x":39,"y":36},{"s":31,"x":40,"y":38},
{"s":32,"x":1,"y":2},{"s":32,"x":2,"y":3},{"s":32,"x":3,"y":4},{"s":32,"x":4,"y":4},{"s":32,"x":5,"y":6},{"s":32,"x":6,"y":7},{"s":32,"x":7,"y":7},{"s":32,"x":8,"y":9},{"s":32,"x":9,"y":9},{"s":32,"x":10,"y":11},
{"s":32,"x":11,"y":12},{"s":32,"x":12,"y":12},{"s":32,"x":13,"y":12},{"s":32,"x":14,"y":15},{"s":32,"x":15,"y":15},{"s":32,"x":16,"y":15},{"s":32,"x":17,"y":16},{"s":32,"x":18,"y":17},{"s":32,"x":19,"y":17},{"s":32,"x":20,"y":18},
{"s":32,"x":21,"y":18},{"s":32,"x":22,"y":20},{"s":32,"x":23,"y":20},{"s":32,"x":24,"y":20},{"s":32,"x":25,"y":22},{"s":32,"x":26,"y":23},{"s":32,"x":27,"y":23},{"s":32,"x":28,"y":25},{"s":32,"x":29,"y":25},{"s":32,"x":30,"y":27},
{"s":32,"x":31,"y":28},{"s":32,"x":32,"y":28},{"s":32,"x":33,"y":31},{"s":32,"x":34,"y":31},{"s":32,"x":35,"y":33},{"s":32,"x":36,"y":33},{"s":32,"x":37,"y":34},{"s":32,"x":38,"y":34},{"s":32,"x":39,"y":36},{"s":32,"x":40,"y":37},
{"s":33,"x":1,"y":1},{"s":33,"x":2,"y":3},{"s":33,"x":3,"y":5},{"s":33,"x":4,"y":5},{"s":33,"x":5,"y":7},{"s":33,"x":6,"y":8},{"s":33,"x":7,"y":8},{"s":33,"x":8,"y":10},{"s":33,"x":9,"y":10},{"s":33,"x":10,"y":12},
{"s":33,"x":11,"y":13},{"s":33,"x":12,"y":14},{"s":33,"x":13,"y":14},{"s":33,"x":14,"y":14},{"s":33,"x":15,"y":16},{"s":33,"x":16,"y":17},{"s":33,"x":17,"y":17},{"s":33,"x":18,"y":17},{"s":33,"x":19,"y":19},{"s":33,"x":20,"y":19},
{"s":33,"x":21,"y":20},{"s":33,"x":22,"y":20},{"s":33,"x":23,"y":22},{"s":33,"x":24,"y":22},{"s":33,"x":25,"y":23},{"s":33,"x":26,"y":23},{"s":33,"x":27,"y":25},{"s":33,"x":28,"y":26},{"s":33,"x":29,"y":26},{"s":33,"x":30,"y":28},
{"s":33,"x":31,"y":29},{"s":33,"x":32,"y":29},{"s":33,"x":33,"y":31},{"s":33,"x":34,"y":31},{"s":33,"x":35,"y":32},{"s":33,"x":36,"y":33},{"s":33,"x":37,"y":33},{"s":33,"x":38,"y":35},{"s":33,"x":39,"y":35},{"s":33,"x":40,"y":37},
{"s":34,"x":1,"y":2},{"s":34,"x":2,"y":3},{"s":34,"x":3,"y":3},{"s":34,"x":4,"y":4},{"s":34,"x":5,"y":5},{"s":34,"x":6,"y":6},{"s":34,"x":7,"y":6},{"s":34,"x":8,"y":8},{"s":34,"x":9,"y":8},{"s":34,"x":10,"y":10},
{"s":34,"x":11,"y":11},{"s":34,"x":12,"y":12},{"s":34,"x":13,"y":12},{"s":34,"x":14,"y":12},{"s":34,"x":15,"y":14},{"s":34,"x":16,"y":15},{"s":34,"x":17,"y":15},{"s":34,"x":18,"y":16},{"s":34,"x":19,"y":16},{"s":34,"x":20,"y":18},
{"s":34,"x":21,"y":19},{"s":34,"x":22,"y":19},{"s":34,"x":23,"y":19},{"s":34,"x":24,"y":21},{"s":34,"x":25,"y":22},{"s":34,"x":26,"y":23},{"s":34,"x":27,"y":23},{"s":34,"x":28,"y":23},{"s":34,"x":29,"y":25},{"s":34,"x":30,"y":26},
{"s":34,"x":31,"y":26},{"s":34,"x":32,"y":28},{"s":34,"x":33,"y":28},{"s":34,"x":34,"y":30},{"s":34,"x":35,"y":31},{"s":34,"x":36,"y":32},{"s":34,"x":37,"y":32},{"s":34,"x":38,"y":34},{"s":34,"x":39,"y":34},{"s":34,"x":40,"y":36},
{"s":35,"x":1,"y":4},{"s":35,"x":2,"y":5},{"s":35,"x":3,"y":5},{"s":35,"x":4,"y":6},{"s":35,"x":5,"y":7},{"s":35,"x":6,"y":8},{"s":35,"x":7,"y":8},{"s":35,"x":8,"y":8},{"s":35,"x":9,"y":10},{"s":35,"x":10,"y":11},
{"s":35,"x":11,"y":12},{"s":35,"x":12,"y":12},{"s":35,"x":13,"y":12},{"s":35,"x":14,"y":13},{"s":35,"x":15,"y":14},{"s":35,"x":16,"y":15},{"s":35,"x":17,"y":15},{"s":35,"x":18,"y":15},{"s":35,"x":19,"y":16},{"s":35,"x":20,"y":17},
{"s":35,"x":21,"y":18},{"s":35,"x":22,"y":18},{"s":35,"x":23,"y":18},{"s":35,"x":24,"y":20},{"s":35,"x":25,"y":21},{"s":35,"x":26,"y":22},{"s":35,"x":27,"y":22},{"s":35,"x":28,"y":24},{"s":35,"x":29,"y":24},{"s":35,"x":30,"y":26},
{"s":35,"x":31,"y":27},{"s":35,"x":32,"y":27},{"s":35,"x":33,"y":27},{"s":35,"x":34,"y":29},{"s":35,"x":35,"y":31},{"s":35,"x":36,"y":32},{"s":35,"x":37,"y":32},{"s":35,"x":38,"y":32},{"s":35,"x":39,"y":34},{"s":35,"x":40,"y":36},
{"s":36,"x":1,"y":1},{"s":36,"x":2,"y":2},{"s":36,"x":3,"y":3},{"s":36,"x":4,"y":3},{"s":36,"x":5,"y":5},{"s":36,"x":6,"y":6},{"s":36,"x":7,"y":6},{"s":36,"x":8,"y":6},{"s":36,"x":9,"y":8},{"s":36,"x":10,"y":9},
{"s":36,"x":11,"y":10},{"s":36,"x":12,"y":10},{"s":36,"x":13,"y":11},{"s":36,"x":14,"y":11},{"s":36,"x":15,"y":13},{"s":36,"x":16,"y":14},{"s":36,"x":17,"y":14},{"s":36,"x":18,"y":14},{"s":36,"x":19,"y":15},{"s":36,"x":20,"y":16},
{"s":36,"x":21,"y":17},{"s":36,"x":22,"y":17},{"s":36,"x":23,"y":18},{"s":36,"x":24,"y":18},{"s":36,"x":25,"y":20},{"s":36,"x":26,"y":21},{"s":36,"x":27,"y":21},{"s":36,"x":28,"y":21},{"s":36,"x":29,"y":23},{"s":36,"x":30,"y":24},
{"s":36,"x":31,"y":25},{"s":36,"x":32,"y":25},{"s":36,"x":33,"y":25},{"s":36,"x":34,"y":27},{"s":36,"x":35,"y":28},{"s":36,"x":36,"y":29},{"s":36,"x":37,"y":29},{"s":36,"x":38,"y":29},{"s":36,"x":39,"y":31},{"s":36,"x":40,"y":32},
{"s":37,"x":1,"y":1},{"s":37,"x":2,"y":2},{"s":37,"x":3,"y":3},{"s":37,"x":4,"y":4},{"s":37,"x":5,"y":5},{"s":37,"x":6,"y":6},{"s":37,"x":7,"y":7},{"s":37,"x":8,"y":7},{"s":37,"x":9,"y":8},{"s":37,"x":10,"y":9},
{"s":37,"x":11,"y":10},{"s":37,"x":12,"y":11},{"s":37,"x":13,"y":11},{"s":37,"x":14,"y":12},{"s":37,"x":15,"y":13},{"s":37,"x":16,"y":14},{"s":37,"x":17,"y":15},{"s":37,"x":18,"y":16},{"s":37,"x":19,"y":17},{"s":37,"x":20,"y":18},
{"s":37,"x":21,"y":19},{"s":37,"x":22,"y":20},{"s":37,"x":23,"y":21},{"s":37,"x":24,"y":21},{"s":37,"x":25,"y":21},{"s":37,"x":26,"y":21},{"s":37,"x":27,"y":21},{"s":37,"x":28,"y":21},{"s":37,"x":29,"y":24},{"s":37,"x":30,"y":24},
{"s":37,"x":31,"y":24},{"s":37,"x":32,"y":24},{"s":37,"x":33,"y":24},{"s":37,"x":34,"y":25},{"s":37,"x":35,"y":25},{"s":37,"x":36,"y":26},{"s":37,"x":37,"y":27},{"s":37,"x":38,"y":27},{"s":37,"x":39,"y":27},{"s":37,"x":40,"y":27},
{"s":38,"x":1,"y":2},{"s":38,"x":2,"y":3},{"s":38,"x":3,"y":4},{"s":38,"x":4,"y":5},{"s":38,"x":5,"y":6},{"s":38,"x":6,"y":7},{"s":38,"x":7,"y":7},{"s":38,"x":8,"y":7},{"s":38,"x":9,"y":8},{"s":38,"x":10,"y":8},
{"s":38,"x":11,"y":9},{"s":38,"x":12,"y":9},{"s":38,"x":13,"y":9},{"s":38,"x":14,"y":10},{"s":38,"x":15,"y":10},{"s":38,"x":16,"y":10},{"s":38,"x":17,"y":11},{"s":38,"x":18,"y":11},{"s":38,"x":19,"y":12},{"s":38,"x":20,"y":13},
{"s":38,"x":21,"y":13},{"s":38,"x":22,"y":13},{"s":38,"x":23,"y":13},{"s":38,"x":24,"y":13},{"s":38,"x":25,"y":13},{"s":38,"x":26,"y":16},{"s":38,"x":27,"y":16},{"s":38,"x":28,"y":16},{"s":38,"x":29,"y":17},{"s":38,"x":30,"y":17},
{"s":38,"x":31,"y":17},{"s":38,"x":32,"y":17},{"s":38,"x":33,"y":17},{"s":38,"x":34,"y":18},{"s":38,"x":35,"y":19},{"s":38,"x":36,"y":19},{"s":38,"x":37,"y":19},{"s":38,"x":38,"y":19},{"s":38,"x":39,"y":19},{"s":38,"x":40,"y":20},
{"s":39,"x":1,"y":1},{"s":39,"x":2,"y":2},{"s":39,"x":3,"y":3},{"s":39,"x":4,"y":4},{"s":39,"x":5,"y":4},{"s":39,"x":6,"y":5},{"s":39,"x":7,"y":5},{"s":39,"x":8,"y":5},{"s":39,"x":9,"y":5},{"s":39,"x":10,"y":5},
{"s":39,"x":11,"y":5},{"s":39,"x":12,"y":5},{"s":39,"x":13,"y":6},{"s":39,"x":14,"y":8},{"s":39,"x":15,"y":8},{"s":39,"x":16,"y":8},{"s":39,"x":17,"y":8},{"s":39,"x":18,"y":8},{"s":39,"x":19,"y":9},{"s":39,"x":20,"y":9},
{"s":39,"x":21,"y":10},{"s":39,"x":22,"y":11},{"s":39,"x":23,"y":11},{"s":39,"x":24,"y":11},{"s":39,"x":25,"y":11},{"s":39,"x":26,"y":11},{"s":39,"x":27,"y":11},{"s":39,"x":28,"y":11},{"s":39,"x":29,"y":11},{"s":39,"x":30,"y":11},
{"s":39,"x":31,"y":11},{"s":39,"x":32,"y":11},{"s":39,"x":33,"y":11},{"s":39,"x":34,"y":11},{"s":39,"x":35,"y":11},{"s":39,"x":36,"y":13},{"s":39,"x":37,"y":13},{"s":39,"x":38,"y":19},{"s":39,"x":39,"y":19},{"s":39,"x":40,"y":19},
{"s":40,"x":1,"y":1},{"s":40,"x":2,"y":2},{"s":40,"x":3,"y":3},{"s":40,"x":4,"y":3},{"s":40,"x":5,"y":3},{"s":40,"x":6,"y":3},{"s":40,"x":7,"y":3},{"s":40,"x":8,"y":3},{"s":40,"x":9,"y":3},{"s":40,"x":10,"y":3},
{"s":40,"x":11,"y":3},{"s":40,"x":12,"y":3},{"s":40,"x":13,"y":4},{"s":40,"x":14,"y":4},{"s":40,"x":15,"y":5},{"s":40,"x":16,"y":5},{"s":40,"x":17,"y":5},{"s":40,"x":18,"y":5},{"s":40,"x":19,"y":7},{"s":40,"x":20,"y":7},
{"s":40,"x":21,"y":7},{"s":40,"x":22,"y":7},{"s":40,"x":23,"y":7},{"s":40,"x":24,"y":7},{"s":40,"x":25,"y":7},{"s":40,"x":26,"y":7},{"s":40,"x":27,"y":7},{"s":40,"x":28,"y":7},{"s":40,"x":29,"y":7},{"s":40,"x":30,"y":7},
{"s":40,"x":31,"y":7},{"s":40,"x":32,"y":7},{"s":40,"x":33,"y":7},{"s":40,"x":34,"y":7},{"s":40,"x":35,"y":7},{"s":40,"x":36,"y":7},{"s":40,"x":37,"y":7},{"s":40,"x":38,"y":7},{"s":40,"x":39,"y":7},{"s":40,"x":40,"y":7}
]},
"data": {"name": "d"},
"mark": {"type": "line", "strokeWidth": 1.7, "clip": true},
"encoding": {
  "x": {"field": "x", "type": "quantitative", "scale": {"domain": [0, 40], "nice": false, "zero": false}, "axis": {"values": [0, 5, 10, 15, 20, 25, 30, 35, 40], "title": "Number of Translations"}},
  "y": {"field": "y", "type": "quantitative", "scale": {"domain": [0, 90], "nice": false}, "axis": {"values": [0, 10, 20, 30, 40, 50, 60, 70, 80, 90], "title": "Number of Unique Unigrams"}},
  "color": {"field": "s", "type": "quantitative", "scale": {"domain": [1, 20.5, 40], "range": ["#abd0e6", "#3787c0", "#333333"], "interpolate": "rgb"}, "legend": null},
  "detail": {"field": "s", "type": "nominal"},
  "order": {"field": "x", "type": "quantitative"}
}
}
